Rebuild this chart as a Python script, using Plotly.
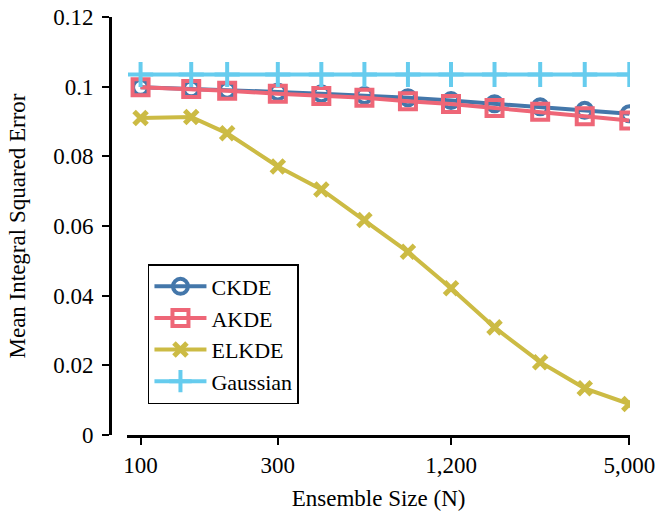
import plotly.graph_objects as go

N = [100, 150, 200, 300, 425, 600, 850, 1200, 1700, 2450, 3500, 5000]
ckde = [0.0998, 0.0994, 0.0990, 0.0985, 0.0980, 0.0975, 0.0968, 0.0960, 0.0951, 0.0942, 0.0932, 0.0922]
akde = [0.0998, 0.0993, 0.0988, 0.0980, 0.0973, 0.0968, 0.0958, 0.0950, 0.0939, 0.0928, 0.0915, 0.0903]
elkde = [0.0910, 0.0913, 0.0866, 0.0771, 0.0705, 0.0617, 0.0526, 0.0421, 0.0309, 0.0209, 0.0134, 0.0089]
gauss = [0.1035] * 12

x_tickvals = [100, 300, 1200, 5000]
x_ticktext = ["100", "300", "1,200", "5,000"]
y_tickvals = [0, 0.02, 0.04, 0.06, 0.08, 0.1, 0.12]
y_ticktext = ["0", "0.02", "0.04", "0.06", "0.08", "0.1", "0.12"]

FONT = "Liberation Serif"
FS = 23

fig = go.Figure()
fig.add_trace(go.Scatter(x=N, y=ckde, name="CKDE", mode="lines+markers",
                         line=dict(color="#4477AA", width=4),
                         marker=dict(symbol="circle-open", size=15, line=dict(width=4, color="#4477AA"))))
fig.add_trace(go.Scatter(x=N, y=akde, name="AKDE", mode="lines+markers",
                         line=dict(color="#EE6677", width=4),
                         marker=dict(symbol="square-open", size=16, line=dict(width=4, color="#EE6677"))))
fig.add_trace(go.Scatter(x=N, y=elkde, name="ELKDE", mode="lines+markers",
                         line=dict(color="#CCBB44", width=4),
                         marker=dict(symbol="x-thin", size=13, line=dict(width=5, color="#CCBB44"))))
fig.add_trace(go.Scatter(x=N, y=gauss, name="Gaussian", mode="lines+markers",
                         line=dict(color="#66CCEE", width=4),
                         marker=dict(symbol="cross-thin", size=18, line=dict(width=4, color="#66CCEE"))))

fig.update_layout(
    width=658, height=512,
    margin=dict(l=110, r=28, t=17, b=77, autoexpand=False),
    paper_bgcolor="white", plot_bgcolor="white",
    font=dict(family=FONT, size=FS, color="black"),
    xaxis=dict(type="log", domain=[0.033, 1], range=[1.9534, 3.7014], automargin=False,
               tickvals=x_tickvals, ticktext=x_ticktext,
               showgrid=False, zeroline=False, showline=True, linecolor="black", linewidth=3,
               ticks="outside", ticklen=7, tickwidth=2, tickcolor="black",
               tickfont=dict(family=FONT, size=FS),
               title=dict(text="Ensemble Size (N)", font=dict(family=FONT, size=FS), standoff=14)),
    yaxis=dict(range=[0, 0.12], anchor="free", position=0, automargin=False,
               tickvals=y_tickvals, ticktext=y_ticktext,
               showgrid=False, zeroline=False, showline=True, linecolor="black", linewidth=3,
               ticks="outside", ticklen=7, tickwidth=2, tickcolor="black",
               tickfont=dict(family=FONT, size=FS), ticklabelstandoff=4,
               title=dict(text="Mean Integral Squared Error", font=dict(family=FONT, size=FS), standoff=20)),
    legend=dict(x=0.073, y=0.074, xanchor="left", yanchor="bottom",
                bgcolor="white", bordercolor="black", borderwidth=1.5,
                font=dict(family=FONT, size=22), itemwidth=52, tracegroupgap=0),
    showlegend=True,
)

fig.write_html("out.html")
